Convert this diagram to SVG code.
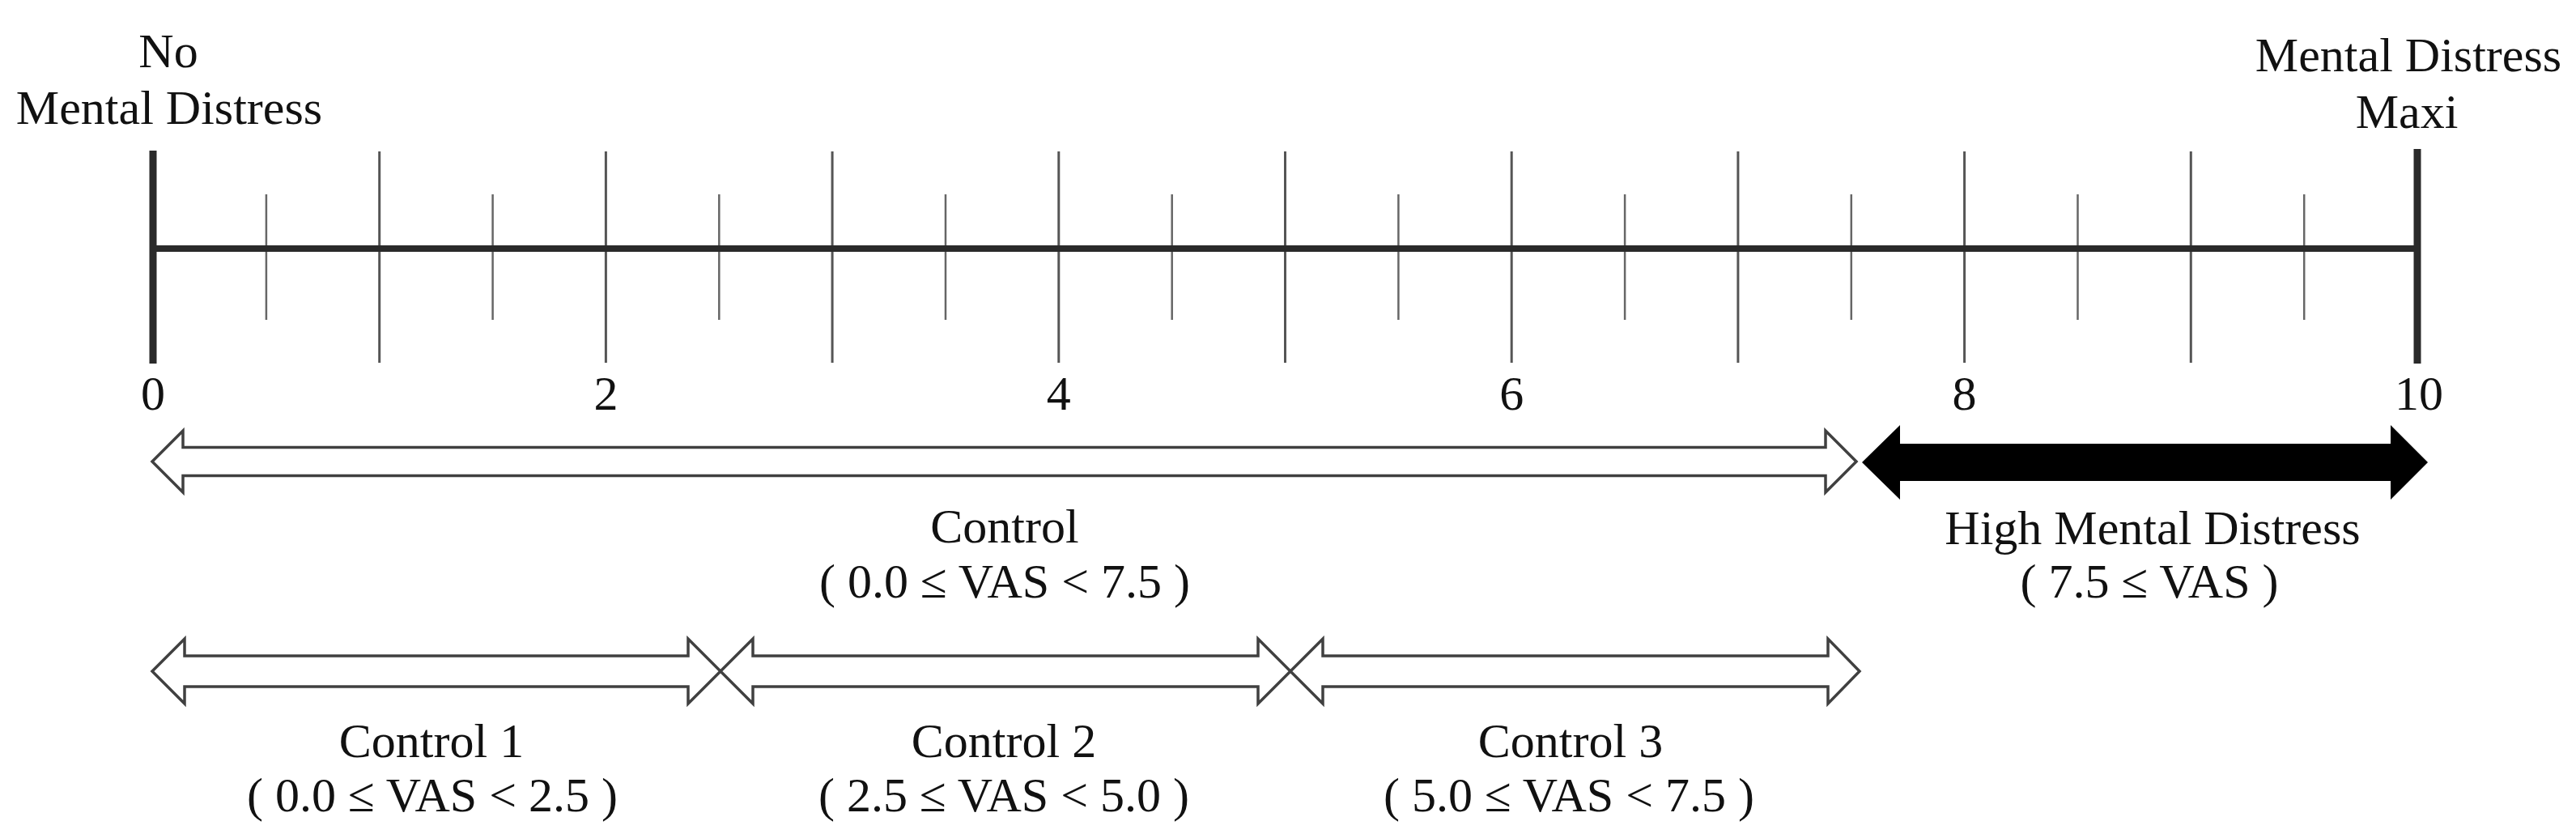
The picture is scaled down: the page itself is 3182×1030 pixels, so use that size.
<svg xmlns="http://www.w3.org/2000/svg" width="3182" height="1030" viewBox="0 0 3182 1030">
<style>
text{font-family:"Liberation Serif","Times New Roman",serif;font-size:60px;fill:#111;text-anchor:middle}
.bar{stroke:#2a2a2a;stroke-width:9;fill:none}
.axis{stroke:#2a2a2a;stroke-width:8;fill:none}
.major{stroke:#555;stroke-width:3;fill:none}
.minor{stroke:#666;stroke-width:2.5;fill:none}
.hollow{fill:#fff;stroke:#404040;stroke-width:3.5;stroke-linejoin:miter}
.solid{fill:#000;stroke:none}
</style>
<rect width="3182" height="1030" fill="#fff"/>
<g id="scale">
<g id="ticks">
<line class="minor" x1="328.9" y1="240" x2="328.9" y2="395"/>
<line class="major" x1="468.7" y1="187" x2="468.7" y2="448"/>
<line class="minor" x1="608.6" y1="240" x2="608.6" y2="395"/>
<line class="major" x1="748.4" y1="187" x2="748.4" y2="448"/>
<line class="minor" x1="888.3" y1="240" x2="888.3" y2="395"/>
<line class="major" x1="1028.1" y1="187" x2="1028.1" y2="448"/>
<line class="minor" x1="1168" y1="240" x2="1168" y2="395"/>
<line class="major" x1="1307.8" y1="187" x2="1307.8" y2="448"/>
<line class="minor" x1="1447.7" y1="240" x2="1447.7" y2="395"/>
<line class="major" x1="1587.5" y1="187" x2="1587.5" y2="448"/>
<line class="minor" x1="1727.4" y1="240" x2="1727.4" y2="395"/>
<line class="major" x1="1867.2" y1="187" x2="1867.2" y2="448"/>
<line class="minor" x1="2007.1" y1="240" x2="2007.1" y2="395"/>
<line class="major" x1="2146.9" y1="187" x2="2146.9" y2="448"/>
<line class="minor" x1="2286.8" y1="240" x2="2286.8" y2="395"/>
<line class="major" x1="2426.6" y1="187" x2="2426.6" y2="448"/>
<line class="minor" x1="2566.5" y1="240" x2="2566.5" y2="395"/>
<line class="major" x1="2706.3" y1="187" x2="2706.3" y2="448"/>
<line class="minor" x1="2846.2" y1="240" x2="2846.2" y2="395"/>
</g>
<line class="axis" x1="189" y1="307" x2="2986" y2="307"/>
<line class="bar" x1="189" y1="186" x2="189" y2="449"/>
<line class="bar" x1="2986" y1="184" x2="2986" y2="449"/>
<g id="tick-labels">
<text x="189" y="506">0</text>
<text x="748.4" y="506">2</text>
<text x="1307.8" y="506">4</text>
<text x="1867.2" y="506">6</text>
<text x="2426.6" y="506">8</text>
<text x="2988" y="506">10</text>
</g>
</g>
<g id="label-min">
<text x="208" y="83">No</text>
<text x="209" y="153">Mental Distress</text>
</g>
<g id="label-max">
<text x="2975" y="88">Mental Distress</text>
<text x="2973" y="158">Maxi</text>
</g>
<g id="connectors">
<path id="arrow-control" class="hollow" d="M188,570 L226,532 L226,552.5 L2255,552.5 L2255,532 L2293,570 L2255,608 L2255,587.5 L226,587.5 L226,608 Z"/>
<path id="arrow-high" class="solid" d="M2300,571 L2347,525 L2347,548 L2953,548 L2953,525 L2999,571 L2953,617 L2953,594 L2347,594 L2347,617 Z"/>
<path id="arrow-control1" class="hollow" d="M188,829 L228,789 L228,810 L850,810 L850,789 L890,829 L850,869 L850,848 L228,848 L228,869 Z"/>
<path id="arrow-control2" class="hollow" d="M890,829 L930,789 L930,810 L1554,810 L1554,789 L1594,829 L1554,869 L1554,848 L930,848 L930,869 Z"/>
<path id="arrow-control3" class="hollow" d="M1594,829 L1634,789 L1634,810 L2258,810 L2258,789 L2297,829 L2258,869 L2258,848 L1634,848 L1634,869 Z"/>
</g>
<g id="control">
<text x="1241" y="670">Control</text>
<text x="1241" y="738">( 0.0 ≤ VAS &lt; 7.5 )</text>
</g>
<g id="high-mental-distress">
<text x="2659" y="672">High Mental Distress</text>
<text x="2655" y="738">( 7.5 ≤ VAS )</text>
</g>
<g id="control-1">
<text x="533" y="935">Control 1</text>
<text x="534" y="1002">( 0.0 ≤ VAS &lt; 2.5 )</text>
</g>
<g id="control-2">
<text x="1240" y="935">Control 2</text>
<text x="1240" y="1002">( 2.5 ≤ VAS &lt; 5.0 )</text>
</g>
<g id="control-3">
<text x="1940" y="935">Control 3</text>
<text x="1938" y="1002">( 5.0 ≤ VAS &lt; 7.5 )</text>
</g>
</svg>
